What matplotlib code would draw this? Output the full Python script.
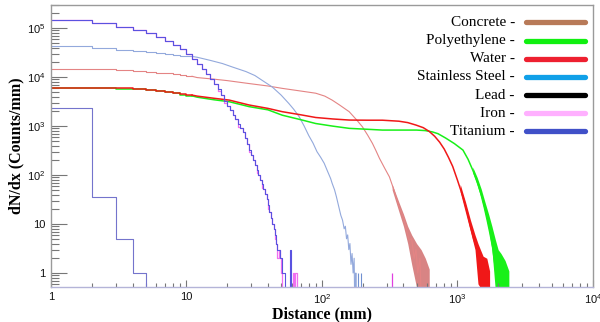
import numpy as np
import matplotlib
matplotlib.use('Agg')
import matplotlib.pyplot as plt
from matplotlib.ticker import FuncFormatter, LogLocator

plt.rcParams['mathtext.fontset'] = 'custom'
plt.rcParams['mathtext.rm'] = 'Liberation Sans'
plt.rcParams['mathtext.it'] = 'Liberation Sans'
plt.rcParams['font.family'] = 'Liberation Sans'

# --- data (counts per 1 mm bin) ---
# first bins are listed bin by bin (bin i covers [i, i+1) mm), then sparse points
ti_bins = [150000, 128000, 107000, 90000, 78000, 66000, 55000, 46000, 37000, 30000,
           24000, 19000, 15000, 11800, 9200, 7200, 5600, 4400, 3300, 2600,
           2100, 1700, 1400, 1100, 900, 750, 560, 440, 330, 260,
           200, 160, 126, 100, 80, 65, 52, 42, 32, 24,
           18, 13, 10, 8, 6, 4, 3, 3, 2, 2,
           1, 1, 0, 0, 0, 0, 0, 3, 0]
fe_bins = [150000, 128000, 107000, 90000, 78000, 66000, 55000, 46000, 37000, 30000,
           24000, 19000, 15000, 11800, 9200, 7200, 5200, 4400, 3000, 2600,
           2100, 1700, 1400, 950, 900, 750, 560, 440, 300, 260,
           200, 160, 110, 100, 80, 55, 52, 42, 32, 20,
           18, 13, 10, 8, 5, 4, 2, 3, 2, 1,
           0, 0, 0, 0, 0, 0, 0, 0, 0, 0,
           1, 0, 1, 1, 0]
fe_single = [330]

steel_bins = [43500, 40000, 36500, 34000, 32500, 31000, 29800, 28500, 27500, 26500]
steel_x = [12, 15, 18.4, 22, 27.5, 32, 36, 43, 50, 57, 62, 68, 74, 80, 86, 92, 98, 104,
           110, 116, 119, 124, 128, 133, 138, 142, 146, 149, 152, 155, 158, 161, 164,
           167, 170, 173, 176, 178, 180]
steel_y = [25500, 22000, 19000, 16000, 13000, 10800, 8700, 6300, 4300, 2900, 2200, 1550,
           1000, 640, 450, 300, 230, 174, 120, 85, 68, 50, 36, 23, 15, 12, 8, 9, 5, 6,
           3, 4, 1.5, 2.5, 1, 2, 0, 1, 0]
steel_single = [185, 194]

con_bins = [15000, 14600, 14000, 13400, 12900, 12400, 11900, 11400, 10900, 10400]
con_x = [12, 16, 20, 29, 40, 51, 70, 90, 105, 119, 135, 159, 180, 199, 218, 236, 250,
         266, 290, 315, 340, 372, 400, 420, 440, 460, 480, 495, 510, 530, 550]
con_y = [9800, 9100, 8500, 7400, 6600, 5900, 5200, 4700, 4100, 3400, 2700, 1970, 1350,
         970, 650, 445, 320, 220, 140, 92, 50, 22, 14, 8, 4.7, 5, 2, 3, 1, 2, 0]
con_band_x = [330, 370, 400, 430, 460, 500, 540, 580, 620]
con_band_lo = [50, 18, 9, 4, 1.5, 0.5, 0.5, 0.5, 0.5]
con_band_hi = [65, 28, 16, 9, 6, 4, 3, 2, 1.2]

water_bins = [6100, 6050, 5900, 5750, 5550, 5300, 5050, 4800, 4550, 4300]
water_x = [12, 16, 20.7, 29, 40, 51, 70, 90, 120, 159, 220, 280, 370, 430, 495, 560,
           620, 680, 740, 800, 860, 924, 1000, 1100, 1180, 1250, 1320, 1400, 1450]
water_y = [4100, 3700, 3400, 2700, 2300, 1970, 1700, 1500, 1400, 1330, 1320, 1320, 1260,
           1180, 1050, 930, 780, 620, 470, 340, 230, 150, 80, 36, 18, 9, 5, 3, 1]
water_band_x = [1050, 1150, 1250, 1350, 1420, 1480, 1550, 1650, 1730]
water_band_lo = [45, 17, 7, 3, 0.6, 0.5, 0.5, 0.5, 0.5]
water_band_hi = [65, 28, 12, 6, 4, 3, 2.2, 2, 1.1]

poly_bins = [6000, 5950, 5800, 5600, 5400, 5150, 4900, 4650, 4400, 4150]
poly_x = [12, 16, 20.7, 29, 40, 51, 70, 90, 120, 159, 220, 280, 400, 500, 580, 656,
          720, 820, 950, 1100, 1200, 1300, 1400, 1490, 1580, 1660, 1740, 1820, 1930]
poly_y = [3900, 3450, 3150, 2500, 2150, 1670, 1350, 1130, 1000, 900, 860, 830, 830, 830,
          810, 760, 700, 570, 440, 324, 210, 126, 75, 42, 22, 12, 6.5, 3.4, 1]
poly_band_x = [1300, 1400, 1500, 1600, 1700, 1800, 1900, 2000, 2100, 2250, 2400]
poly_band_lo = [110, 62, 34, 17, 8, 3, 0.5, 0.5, 0.5, 0.5, 0.5]
poly_band_hi = [145, 90, 52, 28, 16, 9, 5, 3, 2.5, 1.8, 1.1]

lead_bins = [2300, 35, 5, 1, 0]

leg_labels = ['Concrete', 'Polyethylene', 'Water', 'Stainless Steel', 'Lead', 'Iron', 'Titanium']
leg_colors = ['#b87a58', '#10f010', '#ee2030', '#10a0e8', '#000000', '#ffb0ff', '#4050c8']

FLOOR = 0.05  # empty bins fall below the axis


def nz(v):
    v = np.asarray(v, dtype=float)
    return np.where(v > 0, v, FLOOR)


def draw_hist(ax, bins, color, lw, xs=None, ys=None):
    edges = np.arange(1, len(bins) + 2)
    vals = list(bins) + [bins[-1]]
    ax.step(edges, nz(vals), where='post', color=color, lw=lw)
    if xs is not None:
        ax.plot([len(bins) + 1] + list(xs), nz([bins[-1]] + list(ys)), color=color, lw=lw)


fig = plt.figure(figsize=(6, 3.22), dpi=100)
ax = fig.add_axes([0.085, 0.109, 0.903, 0.876])
ax.set_xscale('log')
ax.set_yscale('log')

draw_hist(ax, con_bins, '#e48484', 0.8, con_x, con_y)
ax.fill_between(con_band_x, con_band_lo, con_band_hi, color='#c85050', lw=0, alpha=0.7)
draw_hist(ax, steel_bins, '#93a9dc', 0.8, steel_x, steel_y)
ax.vlines(steel_single, FLOOR, 1, color='#7090d0', lw=0.8)
draw_hist(ax, poly_bins, '#18f018', 1.1, poly_x, poly_y)
ax.fill_between(poly_band_x, poly_band_lo, poly_band_hi, color='#18f018', lw=0)
draw_hist(ax, water_bins, '#f01818', 1.1, water_x, water_y)
ax.fill_between(water_band_x, water_band_lo, water_band_hi, color='#f01818', lw=0)
draw_hist(ax, fe_bins, '#f070f0', 0.9)
ax.vlines(fe_single, FLOOR, 1, color='#e040e0', lw=0.9)
draw_hist(ax, ti_bins, '#5a52e0', 0.8)
draw_hist(ax, lead_bins, '#7474cc', 0.8)

ax.set_xlim(1, 1e4)
ax.set_ylim(0.52, 3e5)


def fmt(v, pos):
    e = int(round(np.log10(v)))
    if e == 0:
        return '1'
    if e == 1:
        return '10'
    return f'$10^{{{e}}}$'


ax.xaxis.set_major_formatter(FuncFormatter(fmt))
ax.yaxis.set_major_formatter(FuncFormatter(fmt))
ax.xaxis.set_major_locator(LogLocator(base=10, numticks=10))
ax.yaxis.set_major_locator(LogLocator(base=10, numticks=10))
ax.xaxis.set_minor_locator(LogLocator(base=10, subs=np.arange(2, 10), numticks=20))
ax.yaxis.set_minor_locator(LogLocator(base=10, subs=np.arange(2, 10), numticks=20))
ax.xaxis.set_minor_formatter(FuncFormatter(lambda v, p: ''))
ax.yaxis.set_minor_formatter(FuncFormatter(lambda v, p: ''))

ax.tick_params(which='both', direction='in', top=False, right=False,
               color='#777777', labelsize=8, labelcolor='#111111', width=0.8)
ax.tick_params(axis='y', which='major', length=11.5, pad=4)
ax.tick_params(axis='y', which='minor', length=5.5)
ax.tick_params(axis='x', which='major', length=5, pad=4)
ax.tick_params(axis='x', which='minor', length=3)

for side in ['left', 'top', 'right']:
    ax.spines[side].set_color('#9a9a9a')
    ax.spines[side].set_linewidth(1.0)
ax.spines['bottom'].set_color('#b4b4d8')
ax.spines['bottom'].set_linewidth(1.0)

ax.set_xlabel('Distance (mm)', family='Liberation Serif', fontweight='bold', size=11.5)
ax.xaxis.set_label_coords(0.5, -0.068)
ax.set_ylabel('dN/dx (Counts/mm)', family='Liberation Serif', fontweight='bold', size=11.5,
              labelpad=2)

for i, (lab, c) in enumerate(zip(leg_labels, leg_colors)):
    y = 0.938 - i * 0.0645
    ax.text(0.856, y, lab + ' -', transform=ax.transAxes, ha='right', va='center',
            family='Liberation Serif', size=11)
    ax.plot([0.876, 0.985], [y, y], transform=ax.transAxes, color=c, lw=3.8,
            solid_capstyle='round')

fig.savefig('out.png', dpi=100)
